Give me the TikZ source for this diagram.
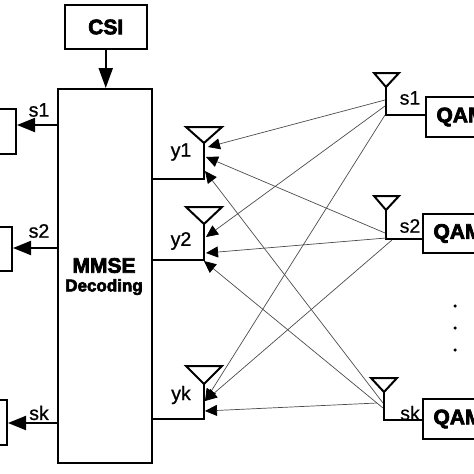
\documentclass[tikz,border=0pt]{standalone}
\usepackage{fontspec}
\usetikzlibrary{arrows.meta}
\setmainfont{Liberation Sans}
\newfontfamily\heavyfont[UprightFont=* Bold,FakeBold=3.5]{Liberation Sans}
\newfontfamily\medfont[FakeBold=1]{Liberation Sans}
\newfontfamily\lightfont[FakeBold=0.4]{Liberation Sans}
\newcommand{\fs}[1]{\fontsize{#1}{#1}\selectfont}
\tikzset{
  x=1pt,y=-1pt,
  blockbox/.style={draw=black,line width=2pt,fill=white,inner sep=0pt,anchor=north west},
  heavylabel/.style={font=\heavyfont\fs{21}},
  siglabel/.style={font=\medfont\fs{19.5},inner sep=0pt},
  siglabelr/.style={font=\lightfont\fs{19.5},inner sep=0pt},
  wire/.style={line width=2pt,line cap=round,line join=miter},
  bigarrow/.style={line width=2pt,-{Triangle[length=20pt,width=14pt]}},
  sidearrow/.style={line width=2pt,-{Triangle[length=18pt,width=14pt]}},
  thin link/.style={line width=0.7pt,draw=black!70,-{Triangle[length=12pt,width=11pt,color=black]}},
  ant/.style={draw=black,line width=2pt,line join=miter,fill=white},
  dotmark/.style={circle,fill=black,inner sep=0pt,minimum size=3.5pt},
}
\begin{document}
\begin{tikzpicture}
\useasboundingbox (0,0) rectangle (474,474);
\clip (0,0) rectangle (474,474);
% blocks
\node[blockbox,minimum width=82.5pt,minimum height=44pt,heavylabel] (csi) at (63.5,4) {CSI};
\node[blockbox,minimum width=94pt,minimum height=374pt] (mmse) at (57,88) {};
\node[heavylabel] (mmset) at (104,265.5) {MMSE};
\node[font=\heavyfont\fs{17}] (dect) at (104,287) {Decoding};
\node[blockbox,minimum width=75pt,minimum height=45pt] (d1) at (-60,108) {};
\node[blockbox,minimum width=71pt,minimum height=44pt] (d2) at (-60,226) {};
\node[blockbox,minimum width=66pt,minimum height=45pt] (dk) at (-60,399) {};
\node[blockbox,minimum width=70pt,minimum height=40pt,heavylabel] (q1) at (425,96) {QAM};
\node[blockbox,minimum width=70pt,minimum height=39pt,heavylabel] (q2) at (422,213) {QAM};
\node[blockbox,minimum width=70pt,minimum height=40pt,heavylabel] (qk) at (422,398) {QAM};
% arrows from the decoder
\draw[bigarrow] (csi.south) -- (csi.south |- mmse.north);
\coordinate (m1) at (57,125); \coordinate (m2) at (57,248); \coordinate (mk) at (57,423);
\draw[sidearrow] (m1) -- (m1 -| d1.east);
\draw[sidearrow] (m2) -- (m2 -| d2.east);
\draw[sidearrow] (mk) -- (mk -| dk.east);
% receive antennas
\coordinate (ra1) at (204,143); \coordinate (rb1) at (204,179);
\coordinate (ra2) at (204,224); \coordinate (rb2) at (204,260);
\coordinate (rak) at (204,384); \coordinate (rbk) at (204,419);
\draw[wire] (ra1) -- (rb1) -- (rb1 -| mmse.east);
\draw[wire] (ra2) -- (rb2) -- (rb2 -| mmse.east);
\draw[wire] (rak) -- (rbk) -- (rbk -| mmse.east);
\draw[ant] (186,127) -- (222,127) -- (ra1) -- cycle;
\draw[ant] (186,207) -- (222,207) -- (ra2) -- cycle;
\draw[ant] (186,366) -- (222,366) -- (rak) -- cycle;
% transmit antennas
\coordinate (ta1) at (386,87); \coordinate (tb1) at (386,115);
\coordinate (ta2) at (386,210); \coordinate (tb2) at (386,239);
\coordinate (tak) at (384,392); \coordinate (tbk) at (384,420);
\draw[wire] (ta1) -- (tb1) -- (tb1 -| q1.west);
\draw[wire] (ta2) -- (tb2) -- (tb2 -| q2.west);
\draw[wire] (tak) -- (tbk) -- (tbk -| qk.west);
\draw[ant] (374,73) -- (399,73) -- (ta1) -- cycle;
\draw[ant] (374,196) -- (399,196) -- (ta2) -- cycle;
\draw[ant] (371,378) -- (397,378) -- (tak) -- cycle;
% link end points
\coordinate (s1a) at (385,100); \coordinate (s1b) at (385,106); \coordinate (s1c) at (385,115);
\coordinate (s2a) at (385,233); \coordinate (s2b) at (386,238); \coordinate (s2c) at (392,240);
\coordinate (ska) at (383,403); \coordinate (skb) at (383,408); \coordinate (skc) at (377,403);
\coordinate (y1a) at (208,147); \coordinate (y1b) at (206,157); \coordinate (y1c) at (205,171);
\coordinate (y2a) at (206,237); \coordinate (y2b) at (206,253); \coordinate (y2c) at (204,261);
\coordinate (yka) at (205,401); \coordinate (ykb) at (205,401); \coordinate (ykc) at (205,411);
\draw[thin link] (s1a) -- (y1a);
\draw[thin link] (s1b) -- (y2a);
\draw[thin link] (s1c) -- (yka);
\draw[thin link] (s2a) -- (y1b);
\draw[thin link] (s2b) -- (y2b);
\draw[thin link] (s2c) -- (ykb);
\draw[thin link] (ska) -- (y1c);
\draw[thin link] (skb) -- (y2c);
\draw[thin link] (skc) -- (ykc);
% labels
\node[siglabel] (l1) at (39,110) {s1};
\node[siglabel] (l2) at (39,231) {s2};
\node[siglabel] (lk) at (39,413) {sk};
\node[siglabel] (ly1) at (181,152) {y1};
\node[siglabel] (ly2) at (181,241) {y2};
\node[siglabel] (lyk) at (181,395) {yk};
\node[siglabelr] (r1) at (410,98) {s1};
\node[siglabelr] (r2) at (410,226) {s2};
\node[siglabelr] (rk) at (410,413) {sk};
\node[dotmark] (p1) at (455,306) {};
\node[dotmark] (p2) at (455,328) {};
\node[dotmark] (p3) at (455,350) {};
\end{tikzpicture}
\end{document}
